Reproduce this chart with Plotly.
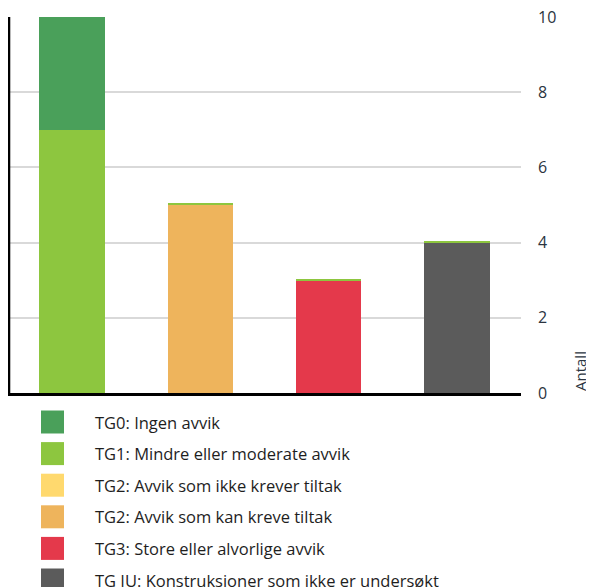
import plotly.graph_objects as go

categories = ["Kategori 1", "Kategori 2", "Kategori 3", "Kategori 4"]
series_names = [
    "TG0: Ingen avvik",
    "TG1: Mindre eller moderate avvik",
    "TG2: Avvik som ikke krever tiltak",
    "TG2: Avvik som kan kreve tiltak",
    "TG3: Store eller alvorlige avvik",
    "TG IU: Konstruksjoner som ikke er undersøkt",
]
series_colors = ["#4aa05a", "#8dc63f", "#ffd96e", "#eeb45c", "#e4394b", "#5b5b5b"]
tg0 = [3, 0, 0, 0]
tg1 = [7, 0.03, 0.03, 0.03]
tg2_ikke = [0, 0, 0, 0]
tg2_kan = [0, 5, 0, 0]
tg3 = [0, 0, 3, 0]
tg_iu = [0, 0, 0, 4]
series_values = [tg0, tg1, tg2_ikke, tg2_kan, tg3, tg_iu]
y_ticks = [0, 2, 4, 6, 8, 10]
axis_title = "Antall"

# The page body has an 8px default margin, so the figure is drawn
# 8px smaller and everything is laid out in figure coordinates.
OFF = 8
W, H = 594 - OFF, 587 - OFF
L, R, T, B = 0, 73, 9, 194

fig = go.Figure()
# Add in reverse so the first series ends up on top of the stack
for name, color, vals in reversed(list(zip(series_names, series_colors, series_values))):
    fig.add_trace(go.Bar(x=categories, y=vals, name=name, marker_color=color,
                         marker_line_width=0, showlegend=False))

font_family = "'Open Sans', sans-serif"
text_color = "#2b3440"

plot_h = H - T - B
plot_w = W - L - R

def px_x(page_x):
    return (page_x - OFF - L) / plot_w

def px_y(page_y):
    return (H - B - (page_y - OFF)) / plot_h

# Manual legend (large square swatches)
row0 = 422
row_gap = 31.6
sw = 23
shapes = []
annotations = []
for i, (name, color) in enumerate(zip(series_names, series_colors)):
    cy = row0 + i * row_gap
    shapes.append(dict(type="rect", xref="paper", yref="paper",
                       x0=px_x(41), x1=px_x(41 + sw),
                       y0=px_y(cy + sw / 2), y1=px_y(cy - sw / 2),
                       fillcolor=color, line_width=0, layer="above"))
    annotations.append(dict(xref="paper", yref="paper", x=px_x(93),
                            y=px_y(cy), xanchor="left", yanchor="middle",
                            text=name, showarrow=False,
                            font=dict(family=font_family, size=16.5, color="#1e1e1e")))

# Left black axis line
shapes.append(dict(type="line", xref="paper", yref="paper", x0=0.002, x1=0.002, y0=0, y1=1,
                   line=dict(color="#000000", width=2.5), layer="above"))

# Axis title at bottom of right side
annotations.append(dict(xref="paper", yref="paper", x=px_x(580), y=0,
                        xanchor="center", yanchor="bottom", textangle=-90,
                        text=axis_title, showarrow=False,
                        font=dict(family=font_family, size=15, color=text_color)))

fig.update_layout(
    width=W, height=H,
    margin=dict(l=L, r=R, t=T, b=B, pad=0, autoexpand=False),
    barmode="stack",
    bargap=0.49,
    plot_bgcolor="white", paper_bgcolor="white",
    shapes=shapes, annotations=annotations,
    showlegend=False,
    xaxis=dict(showticklabels=False, ticks="", showgrid=False, showline=True,
               linecolor="#000000", linewidth=2.5, zeroline=False, fixedrange=True,
               automargin=False),
    yaxis=dict(side="right", range=[0, 10], tickvals=y_ticks, showgrid=True,
               gridcolor="#d9d9d9", gridwidth=1.5, zeroline=False, ticks="",
               ticklabelstandoff=16, ticklabeloverflow="allow", automargin=False,
               tickfont=dict(family=font_family, size=16, color=text_color)),
)

fig.write_html("out.html")
